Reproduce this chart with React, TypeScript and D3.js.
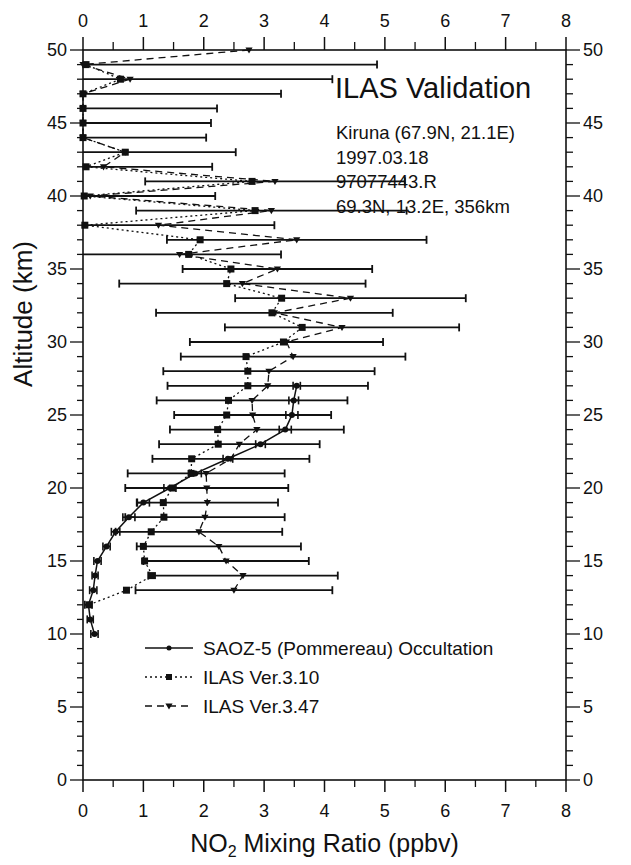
import React from 'react';
import * as d3 from 'd3';

// ---- data ----
const SAOZ_ALT = [10, 11, 12, 13, 14, 15, 16, 17, 18, 19, 20, 21, 22, 23, 24, 25, 26, 27];
const SAOZ_VAL = [0.19, 0.12, 0.09, 0.17, 0.2, 0.24, 0.39, 0.54, 0.76, 1.0, 1.44, 1.86, 2.4, 2.94, 3.35, 3.46, 3.49, 3.54];
const SAOZ_ERR = [0.06, 0.05, 0.06, 0.06, 0.05, 0.06, 0.06, 0.07, 0.1, 0.1, 0.1, 0.1, 0.08, 0.08, 0.1, 0.1, 0.08, 0.06];

const V310_ALT = [12, 13, 14, 15, 16, 17, 18, 19, 20, 21, 22, 23, 24, 25, 26, 27, 28, 29, 30, 31, 32, 33, 34, 35, 36, 37, 38, 39, 40, 41, 42, 43, 44, 45, 46, 47, 48, 49];
const V310_VAL = [0.1, 0.72, 1.15, 1.02, 1.0, 1.13, 1.34, 1.33, 1.48, 1.79, 1.8, 2.24, 2.23, 2.38, 2.41, 2.73, 2.73, 2.7, 3.32, 3.63, 3.13, 3.29, 2.38, 2.45, 1.75, 1.94, 0.03, 2.85, 0.02, 2.8, 0.05, 0.7, 0.0, 0.0, 0.0, 0.0, 0.62, 0.05];

const V347_ALT = [13, 14, 15, 16, 17, 18, 19, 20, 21, 22, 23, 24, 25, 26, 27, 28, 29, 30, 31, 32, 33, 34, 35, 36, 37, 38, 39, 40, 41, 42, 43, 44, 45, 46, 47, 48, 49, 50];
const V347_VAL = [2.5, 2.65, 2.37, 2.25, 1.92, 2.02, 2.06, 2.05, 2.04, 2.45, 2.59, 2.88, 2.81, 2.8, 3.06, 3.08, 3.48, 3.37, 4.29, 3.17, 4.43, 2.64, 3.22, 1.6, 3.54, 1.25, 3.12, 0.12, 3.18, 0.34, 0.7, 0.0, 0.0, 0.0, 0.0, 0.78, 0.0, 2.75];
const V347_ERR = [1.63, 1.57, 1.37, 1.36, 1.38, 1.32, 1.17, 1.35, 1.3, 1.3, 1.33, 1.44, 1.3, 1.58, 1.66, 1.75, 1.86, 1.6, 1.94, 1.96, 1.91, 2.04, 1.57, 1.68, 2.15, 1.92, 2.24, 2.07, 2.15, 1.8, 1.83, 2.04, 2.12, 2.22, 3.28, 3.35, 4.87, 0];

const X_TICKS = [0, 1, 2, 3, 4, 5, 6, 7, 8];
const X_MINOR = [0.5, 1.5, 2.5, 3.5, 4.5, 5.5, 6.5, 7.5];
const Y_TICKS = [0, 5, 10, 15, 20, 25, 30, 35, 40, 45, 50];

const LEGEND = ['SAOZ-5 (Pommereau) Occultation', 'ILAS Ver.3.10', 'ILAS Ver.3.47'];
const INFO = ['Kiruna (67.9N, 21.1E)', '1997.03.18', '97077443.R', '69.3N, 13.2E, 356km'];

const FONT = '"Liberation Sans", Arial, Helvetica, sans-serif';
const INK = '#111';

const L = 83, R = 566, T = 50, B = 780;

export default function App() {
  const x = d3.scaleLinear().domain([0, 8]).range([L, R]);
  const y = d3.scaleLinear().domain([0, 50]).range([B, T]);
  const yMinor = d3.range(0, 51, 1);

  const saoz = SAOZ_ALT.map((a, i) => ({ a, v: SAOZ_VAL[i], e: SAOZ_ERR[i] }));
  const v310 = V310_ALT.map((a, i) => ({ a, v: V310_VAL[i] }));
  const v347 = V347_ALT.map((a, i) => ({ a, v: V347_VAL[i], e: V347_ERR[i] }));

  const line = d3.line<{ a: number; v: number }>().x(d => x(d.v)).y(d => y(d.a));

  const errBar = (v: number, e: number, a: number, key: string, cap: number, sw: number) => {
    if (e <= 0) return null;
    const lo = Math.max(0, v - e);
    const hi = v + e;
    const yy = y(a);
    return (
      <g key={key}>
        <line x1={x(lo)} x2={x(hi)} y1={yy} y2={yy} stroke={INK} strokeWidth={sw} />
        {v - e >= 0 && <line x1={x(lo)} x2={x(lo)} y1={yy - cap} y2={yy + cap} stroke={INK} strokeWidth={sw} />}
        <line x1={x(hi)} x2={x(hi)} y1={yy - cap} y2={yy + cap} stroke={INK} strokeWidth={sw} />
      </g>
    );
  };

  const tri = (cx: number, cy: number, s: number) =>
    `M${cx - s},${cy - s * 0.7}L${cx + s},${cy - s * 0.7}L${cx},${cy + s}Z`;

  const legY = [648, 677, 706];

  return (
    <div style={{ position: 'absolute', left: 0, top: 0 }}>
      <svg width={631} height={865} style={{ display: 'block', background: '#fff' }} fontFamily={FONT}>
        <rect x={0} y={0} width={631} height={865} fill="#fff" />
        {/* frame */}
        <rect x={L} y={T} width={R - L} height={B - T} fill="none" stroke={INK} strokeWidth={1.6} />

        {/* x ticks top/bottom */}
        {X_TICKS.map(t => (
          <g key={'xt' + t}>
            <line x1={x(t)} x2={x(t)} y1={T} y2={T - 13} stroke={INK} strokeWidth={1.5} />
            <line x1={x(t)} x2={x(t)} y1={B} y2={B + 12} stroke={INK} strokeWidth={1.5} />
            <text x={x(t)} y={T - 23} textAnchor="middle" fontSize={18} fill={INK}>{t}</text>
            <text x={x(t)} y={B + 37} textAnchor="middle" fontSize={18} fill={INK}>{t}</text>
          </g>
        ))}
        {X_MINOR.map(t => (
          <g key={'xm' + t}>
            <line x1={x(t)} x2={x(t)} y1={T} y2={T - 8} stroke={INK} strokeWidth={1.3} />
            <line x1={x(t)} x2={x(t)} y1={B} y2={B + 7} stroke={INK} strokeWidth={1.3} />
          </g>
        ))}
        {/* y ticks */}
        {yMinor.map(t => {
          const major = t % 5 === 0;
          return (
            <g key={'yt' + t}>
              <line x1={L} x2={L - (major ? 13 : 6)} y1={y(t)} y2={y(t)} stroke={INK} strokeWidth={1.3} />
              <line x1={R} x2={R + (major ? 14 : 7)} y1={y(t)} y2={y(t)} stroke={INK} strokeWidth={1.3} />
            </g>
          );
        })}
        {Y_TICKS.map(t => (
          <g key={'yl' + t}>
            <text x={L - 16} y={y(t)} dy="0.35em" textAnchor="end" fontSize={18} fill={INK}>{t}</text>
            <text x={R + 17} y={y(t)} dy="0.35em" textAnchor="start" fontSize={18} fill={INK}>{t}</text>
          </g>
        ))}

        {/* axis titles */}
        <text transform={`translate(32,${(T + B) / 2 - 101}) rotate(-90)`} textAnchor="middle" fontSize={26} fill={INK}>Altitude (km)</text>
        <text x={(L + R) / 2} y={852} textAnchor="middle" fontSize={25} fill={INK}>
          NO<tspan fontSize={16} dy={5}>2</tspan><tspan dy={-5}> Mixing Ratio (ppbv)</tspan>
        </text>

        {/* annotations */}
        <text x={335} y={98} fontSize={29} fill={INK}>ILAS Validation</text>
        {INFO.map((s, i) => (
          <text key={s} x={336} y={139 + i * 24.5} fontSize={18.5} fill={INK}>{s}</text>
        ))}

        {/* ILAS 3.47 error bars */}
        {v347.map((d, i) => errBar(d.v, d.e, d.a, 'e347' + i, 4, 1.8))}
        {/* SAOZ error bars */}
        {saoz.map((d, i) => errBar(d.v, d.e, d.a, 'es' + i, 4, 1.6))}

        {/* lines */}
        <path d={line(v347) || ''} fill="none" stroke={INK} strokeWidth={1.3} strokeDasharray="7,5" />
        <path d={line(v310) || ''} fill="none" stroke={INK} strokeWidth={1.3} strokeDasharray="2,3" />
        <path d={line(saoz) || ''} fill="none" stroke={INK} strokeWidth={1.5} />

        {/* markers */}
        {v347.map((d, i) => <path key={'m347' + i} d={tri(x(d.v), y(d.a), 3.6)} fill={INK} />)}
        {v310.map((d, i) => <rect key={'m310' + i} x={x(d.v) - 3.5} y={y(d.a) - 3.5} width={7} height={7} fill={INK} />)}
        {saoz.map((d, i) => <circle key={'ms' + i} cx={x(d.v)} cy={y(d.a)} r={3} fill={INK} />)}

        {/* legend */}
        {LEGEND.map((s, i) => (
          <g key={s}>
            <line x1={145} x2={193} y1={legY[i]} y2={legY[i]} stroke={INK}
              strokeWidth={i === 0 ? 1.5 : 1.3}
              strokeDasharray={i === 0 ? undefined : i === 1 ? '2,3' : '7,5'} />
            {i === 0 && <circle cx={169} cy={legY[i]} r={2.5} fill={INK} />}
            {i === 1 && <rect x={166} y={legY[i] - 3} width={6} height={6} fill={INK} />}
            {i === 2 && <path d={tri(169, legY[i], 3.6)} fill={INK} />}
            <text x={203} y={legY[i]} dy="0.35em" fontSize={19} fill={INK}>{s}</text>
          </g>
        ))}
      </svg>
    </div>
  );
}
